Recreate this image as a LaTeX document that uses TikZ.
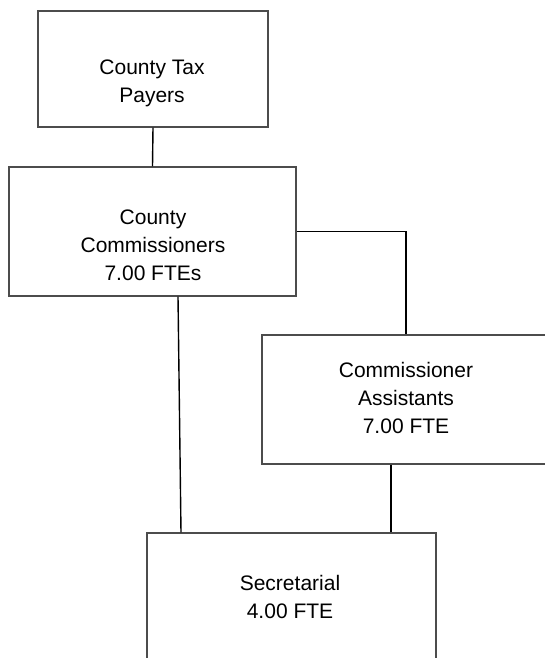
\documentclass[tikz,border=0pt]{standalone}
\usepackage{fontspec}
\setmainfont{Liberation Sans}
\begin{document}
\begin{tikzpicture}[x=1pt,y=-1pt,
  box/.style={draw=black!70, line width=1.1pt, rectangle, inner sep=0pt},
  txt/.style={align=center, font=\fontsize{21}{28}\selectfont, inner sep=0pt},
  conn/.style={draw=black, line width=1.4pt}]
\clip (0,0) rectangle (545,658);
\fill[white] (0,0) rectangle (545,658);
% boxes
\node[box, minimum width=230pt, minimum height=116pt] (tax) at (153,69) {};
\node[box, minimum width=287pt, minimum height=129pt] (comm) at (152.5,231.5) {};
\node[box, minimum width=288pt, minimum height=129pt] (asst) at (406,399.5) {};
\node[box, minimum width=289pt, minimum height=154pt] (sec) at (291.5,610) {};
% texts
\node[txt] (taxt) at (152,83) {County Tax\\Payers};
\node[txt] (commt) at (153,245) {County\\Commissioners\\7.00 FTEs};
\node[txt] (asstt) at (406,398) {Commissioner\\Assistants\\7.00 FTE};
\node[txt] (sect) at (290,597) {Secretarial\\4.00 FTE};
% connectors
\draw[conn] (tax.south) -- (comm.north);
\draw[conn] (comm.east) -| (asst.north);
\draw[conn] ([xshift=25.5pt]comm.south) -- ([xshift=-110.5pt]sec.north);
\draw[conn] ([xshift=-15pt]asst.south) -- ([xshift=99.5pt]sec.north);
\end{tikzpicture}
\end{document}
